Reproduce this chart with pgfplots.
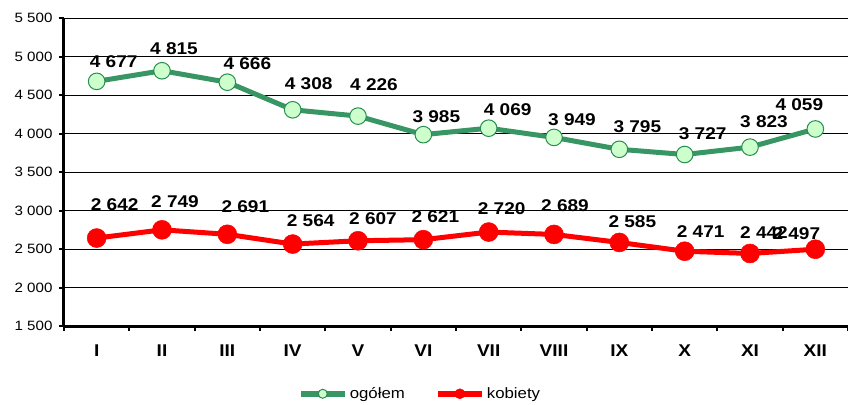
\documentclass[border=0pt]{standalone}
\usepackage{fontspec}
\setmainfont{Liberation Sans}[FakeStretch=1.12]
\usepackage{pgfplots}
\pgfplotsset{compat=1.18}
\usepackage{pgfplotstable}
\definecolor{gline}{RGB}{56,150,100}
\definecolor{gfill}{RGB}{204,255,204}
\definecolor{gedge}{RGB}{40,140,80}
\pgfplotstableread{
x y dx dy
1 4677 17 20
2 4815 12 22
3 4666 20 19
4 4308 16 26
5 4226 16 31
6 3985 13 18
7 4069 19 19
8 3949 18 18
9 3795 18 23
10 3727 18 21
11 3823 14 25
12 4059 -16 24
}\ogolem
\pgfplotstableread{
x y dx dy
1 2642 18 33
2 2749 13 28
3 2691 18 28
4 2564 18 23
5 2607 15 22
6 2621 12 23
7 2720 13 23
8 2689 11 29
9 2585 13 21
10 2471 16 20
11 2442 14 21
12 2497 -19 16
}\kobiety
\begin{document}
\begin{tikzpicture}
\path[use as bounding box] (-64pt,-78pt) rectangle (784pt,326pt);
\begin{axis}[
  at={(0,0)}, anchor=south west,
  scale only axis, width=784pt, height=308pt,
  clip=false,
  xmin=0.5, xmax=12.5, ymin=1500, ymax=5500,
  ytick={1500,2000,...,5500},
  xtick={0.5,1.5,...,12.5}, xticklabels={},
  extra x ticks={1,2,...,12},
  extra x tick labels={I,II,III,IV,V,VI,VII,VIII,IX,X,XI,XII},
  extra x tick style={major tick length=0pt, grid=none},
  axis x line*=bottom, axis y line*=left,
  axis line style={line width=3pt, black},
  ymajorgrids, grid style={black, line width=0.9pt},
  tick align=outside, major tick length=5pt,
  tick style={black, line width=2pt},
  /pgf/number format/assume math mode=true,
  /pgf/number format/1000 sep={\ },
  yticklabel style={font=\fontsize{13.5}{15}\selectfont, xshift=-3pt},
  xticklabel style={font=\fontsize{17}{19}\selectfont\bfseries, anchor=base, yshift=-30pt},
  nodes near coords={\pgfmathprintnumber[assume math mode=true,1000 sep={\ }]{\pgfplotspointmeta}},
  nodes near coords style={font=\fontsize{17}{19}\selectfont\bfseries, text=black},
  visualization depends on={\thisrow{dx}\as\dx},
  visualization depends on={\thisrow{dy}\as\dy},
  every node near coord/.append style={anchor=center, xshift=\dx pt, yshift=\dy pt, inner sep=0pt},
  legend style={at={(0.454,-0.22)}, anchor=center, draw=none, fill=none,
    legend columns=2, font=\fontsize{15}{17}\selectfont,
    /tikz/every even column/.append style={column sep=28pt}},
  legend image code/.code={\draw[mark repeat=2,mark phase=2,#1] plot coordinates {(0pt,0pt)(22pt,0pt)(44pt,0pt)};},
]
\addplot[gline, line width=5pt, mark=*, mark size=8.3pt,
  mark options={fill=gfill, draw=gedge, line width=1pt},
  legend image post style={mark size=4.5pt, line width=6pt}]
  table[x=x, y=y] {\ogolem};
\addlegendentry{ogółem}
\addplot[red, line width=5pt, mark=*, mark size=9.5pt,
  mark options={fill=red, draw=red, line width=0.5pt},
  legend image post style={mark size=5pt, line width=6pt}]
  table[x=x, y=y] {\kobiety};
\addlegendentry{kobiety}
\end{axis}
\end{tikzpicture}
\end{document}
